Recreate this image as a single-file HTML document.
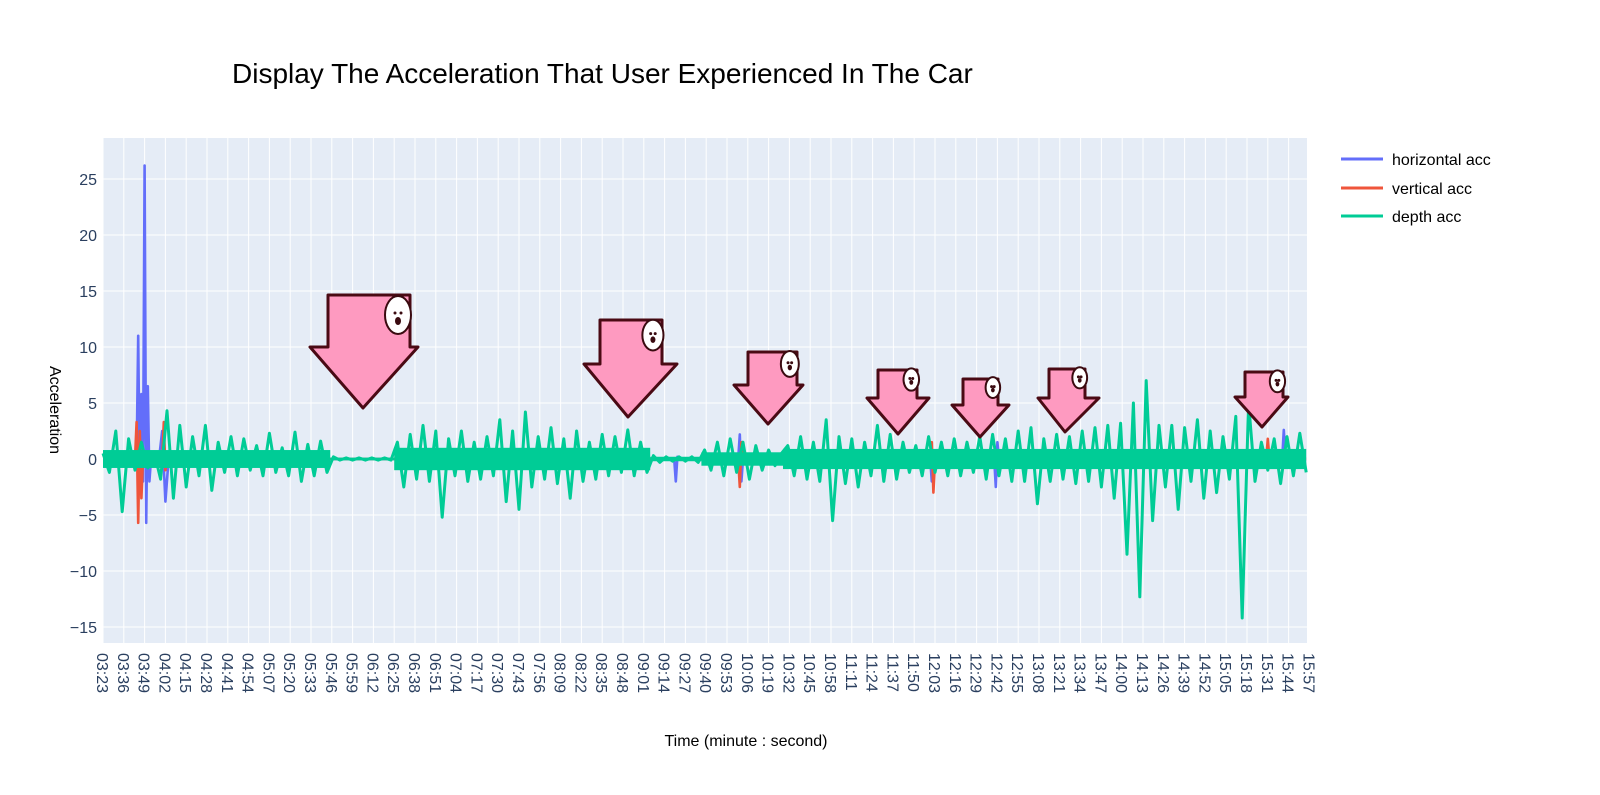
<!DOCTYPE html>
<html><head><meta charset="utf-8"><style>
body{margin:0;background:#fff;width:1600px;height:790px;overflow:hidden;font-family:"Liberation Sans",sans-serif}
</style></head><body>
<svg id="chart" width="1600" height="790" xmlns="http://www.w3.org/2000/svg" font-family="Liberation Sans, sans-serif">
<text x="232" y="83" font-size="28" fill="#000">Display The Acceleration That User Experienced In The Car</text>
<rect x="103" y="138" width="1204" height="505" fill="#e5ecf6"/>
<g id="grid"></g>
<g id="series"></g>
<g id="arrows"></g>
<g id="axes"></g>
<text transform="translate(50,410) rotate(90)" text-anchor="middle" font-size="16" fill="#000">Acceleration</text>
<text x="746" y="746" text-anchor="middle" font-size="16" fill="#000">Time (minute : second)</text>
<g>
<g><line x1="1341" y1="159" x2="1383" y2="159" stroke="#636efa" stroke-width="3"/><text x="1392" y="165" font-size="16" fill="#000">horizontal acc</text></g>
<g><line x1="1341" y1="188" x2="1383" y2="188" stroke="#ef553b" stroke-width="3"/><text x="1392" y="194" font-size="16" fill="#000">vertical acc</text></g>
<g><line x1="1341" y1="216" x2="1383" y2="216" stroke="#00cc96" stroke-width="3"/><text x="1392" y="222" font-size="16" fill="#000">depth acc</text></g>
</g>
</svg>
<script>
const yTicks=[25,20,15,10,5,0,-5,-10,-15];
const xTickStart=203, xTickStep=13, xTickCount=59;
const bT=[203,224,225,226,227,228,229,230,231,232,233,238,240,242,244,250,251,252,560,561,562,563,600,601,602,603,720,721,722,760,761,762,763,940,941,942,955];
const bV=[0,0,11,-3,5.8,-2,26.2,-5.7,6.5,-2,0,0,2.5,-3.8,0,0,0,0,0,-2,0.2,0,0,2.2,-2,0,0,-2,0,0,-2.5,1.5,0,0,2.6,0,0];
const rT=[203,223,224,225,226,227,228,240,241,242,243,600,601,602,603,720,721,722,723,930,931,932,955];
const rV=[0,0,3.3,-5.7,2.5,-3.5,0,0,3.3,-1,0,0,-2.5,1.5,0,0,1.5,-3,0,0,1.8,0,0];
const bandT=[203,345,385,545,577,628,955];
const bandA=[0.8,0.12,1.0,0.2,0.6,0.9];
const dT0=203, dStep=4;
const dV=[0.5,-1.2,2.5,-4.7,1.8,-1,1.5,-0.8,0.6,-1.8,4.3,-3.5,3,-2.5,2,-1.5,3,-2.8,1.5,-1.2,2,-1.5,1.8,-1,1.2,-1.5,2.3,-1.2,1,-1.5,2.4,-2,1.3,-1.5,1.6,-1.2,
0.2,-0.1,0.1,-0.1,0.1,-0.1,0.1,-0.1,0.1,-0.1,
1.5,-2.5,2.2,-1.8,3,-2,2.5,-5.2,1.8,-1.5,2.5,-2,1.5,-1.8,2,-1.5,3.5,-3.8,2.5,-4.5,4.2,-2.5,2,-1.8,2.8,-2.2,1.8,-3.5,2.5,-2,1.5,-1.8,2.2,-1.5,2,-1.2,2.6,-1.5,1.5,-1.2,
0.3,-0.3,0.2,-0.2,0.2,-0.2,0.2,-0.3,
0.8,-1,1.5,-1.5,1.8,-1.2,1.5,-1.8,1.2,-1,0.8,-0.6,0.5,
1.2,-1.5,2,-1.8,1.5,-2,3.5,-5.5,2,-2.2,1.8,-2.5,1.5,-1.5,3,-2,2.2,-1.8,1.5,-1.2,1.2,-1.5,2,-1.2,1.5,-1.5,1.8,-1.5,1.5,-1.2,2,-1.8,2.2,-1.5,1.8,-2,2.5,-2,2.8,-4,1.8,-2,2.2,-1.8,2,-2.2,2.5,-2,2.8,-2.5,3,-3.5,3.2,-8.5,5,-12.3,7,-5.5,3,-2.5,3,-4.5,2.8,-2,3.5,-3.5,2.5,-3,2,-1.8,3.8,-14.2,5,-2,1.5,-1,1.8,-2.2,2,-1.5,2.3,-1.2];
const NS="http://www.w3.org/2000/svg";
function X(t){return 103+(t-203)*1.6;}
function Y(v){return 459-v*11.2;}
function mk(tag,attrs,parent){const e=document.createElementNS(NS,tag);for(const k in attrs)e.setAttribute(k,attrs[k]);parent.appendChild(e);return e;}
const grid=document.getElementById('grid'),axes=document.getElementById('axes'),series=document.getElementById('series');
function fmt(s){const m=Math.floor(s/60),ss=s%60;return String(m).padStart(2,'0')+':'+String(ss).padStart(2,'0');}
for(let k=0;k<xTickCount;k++){
  const t=xTickStart+k*xTickStep,x=X(t);
  if(x<=1307){const g=mk('line',{x1:x,x2:x,y1:138,y2:643,stroke:'#fff','stroke-width':1},grid);
  
  }
  const tx=mk('text',{transform:`translate(${x-6},653) rotate(90)`,'font-size':16,fill:'#2a3f5f'},axes);
  
  
  tx.textContent=fmt(t);
}
yTicks.forEach(v=>{
  const y=Y(v);
  const g=mk('line',{x1:103,x2:1307,y1:y,y2:y,stroke:'#fff','stroke-width':v===0?2:1},grid);
  
  
  const tx=mk('text',{x:97,y:y+6,'text-anchor':'end','font-size':16,fill:'#2a3f5f'},axes);
  
  
  tx.textContent=v===0?'0':(v<0?'\u2212'+(-v):String(v));
});
function line(ts,vs,color,name,w){
  const pts=ts.map((t,i)=>X(t).toFixed(1)+','+Y(vs[i]).toFixed(1)).join(' ');
  const p=mk('polyline',{points:pts,fill:'none',stroke:color,'stroke-width':w,'stroke-linejoin':'round'},series);
  
  
}
line(bT,bV,'#636efa','horizontal-acc-line',2.6);
line(rT,rV,'#ef553b','vertical-acc-line',2.6);
bandA.forEach((a,i)=>{
  const x1=X(bandT[i]),x2=X(bandT[i+1]);
  const r=mk('rect',{x:x1,y:Y(a),width:x2-x1,height:Y(-a)-Y(a),fill:'#00cc96'},series);
  
  
});
line(dV.map((v,i)=>dT0+i*dStep),dV,'#00cc96','depth-acc-line',3);
const arrowsSpec=[[328,410,295,310,418,347,363,408],[600,662,320,584,677,364,628,417],[748,797,352,734,803,385,768,424],[878,917,370,867,929,398,898,434],[963,998,379,952,1009,405,980,437],[1049,1085,369,1038,1099,398,1065,432],[1245,1283,372,1235,1288,397,1262,427]];
const ag=document.getElementById('arrows');
arrowsSpec.forEach(a=>{
  const [l,r,t,wl,wr,wy,tx,ty]=a;
  const p=mk('polygon',{points:`${l},${t} ${r},${t} ${r},${wy} ${wr},${wy} ${tx},${ty} ${wl},${wy} ${l},${wy}`,fill:'#fe9ac0',stroke:'#4a0a14','stroke-width':3,'stroke-linejoin':'round'},ag);
  
  
  const s=(r-l)/82, cx=r-12*s, cy=t+20*s;
  const st=mk('ellipse',{cx:cx,cy:cy,rx:10*s+3,ry:15*s+4,fill:'#fff',stroke:'#3a0a10','stroke-width':2},ag);
  
  
  mk('circle',{cx:cx-3*s,cy:cy-2*s,r:1.5,fill:'#3a0a10'},ag);
  mk('circle',{cx:cx+3*s,cy:cy-2*s,r:1.5,fill:'#3a0a10'},ag);
  mk('ellipse',{cx:cx,cy:cy+6*s,rx:2*s+1,ry:3*s+1,fill:'#3a0a10'},ag);
});
</script>
</body></html>
